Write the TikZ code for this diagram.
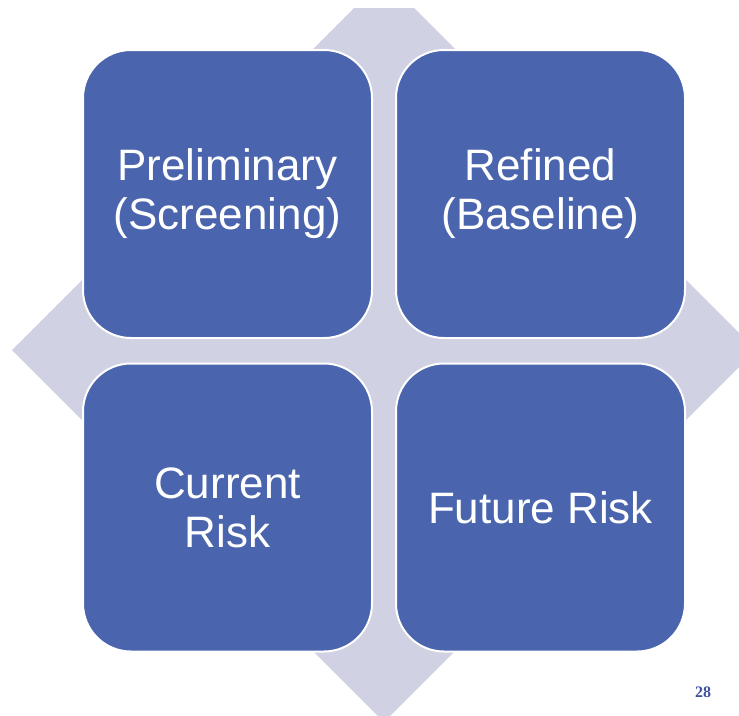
\documentclass[tikz,border=0pt]{standalone}
\usepackage{fontspec}
\setmainfont{Liberation Sans}
\newfontfamily\numfont{Liberation Serif}
\definecolor{boxblue}{RGB}{74,101,174}
\definecolor{diamfill}{RGB}{208,209,227}
\definecolor{numblue}{RGB}{64,80,160}
\begin{document}
\begin{tikzpicture}[x=1pt,y=-1pt,
  quad/.style={draw=white, line width=2pt, fill=boxblue, rounded corners=48pt,
    minimum width=289pt, minimum height=288pt, text=white,
    font=\fontsize{44}{49}\selectfont, align=center, inner sep=0pt}]
\useasboundingbox (0,0) rectangle (739,715);
\begin{scope}
  \clip (0,8) rectangle (739,715);
  \fill[diamfill] (384,-22) -- (756,350) -- (384,722) -- (12,350) -- cycle;
\end{scope}
\node[quad] (pre) at (227.5,194) {Preliminary\\(Screening)};
\node[quad] (ref) at (540.5,194) {Refined\\(Baseline)};
\node[quad] (cur) at (227.5,507.5) {Current\\Risk};
\node[quad] (fut) at (540.5,507.5) {Future Risk};
\node[text=numblue, font=\numfont\bfseries\fontsize{16}{18}\selectfont] (num) at (703,692) {28};
\end{tikzpicture}
\end{document}
